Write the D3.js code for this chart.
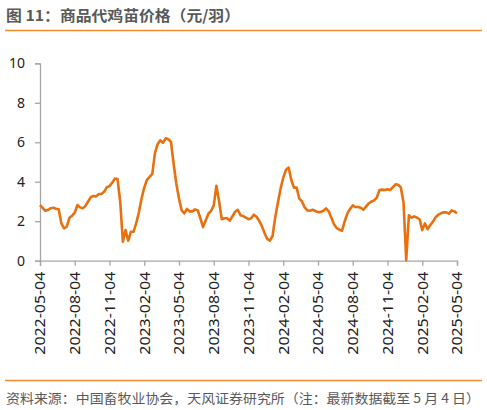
<!DOCTYPE html>
<html><head><meta charset="utf-8">
<script src="https://cdn.jsdelivr.net/npm/d3@7/dist/d3.min.js"></script>
<style>
body{margin:0;background:#fff;}
svg{display:block;}
text{font-family:"Noto Sans CJK SC","Noto Sans",sans-serif;}
</style></head>
<body>
<script>
const titleText = "图 11：商品代鸡苗价格（元/羽）";
const sourceText = "资料来源：中国畜牧业协会，天风证券研究所（注：最新数据截至 5 月 4 日）";
const tickLabels = ["2022-05-04","2022-08-04","2022-11-04","2023-02-04","2023-05-04","2023-08-04","2023-11-04","2024-02-04","2024-05-04","2024-08-04","2024-11-04","2025-02-04","2025-05-04"];
const yTicks = [0,2,4,6,8,10];
// weekly price (元/羽)
const prices = [
2.82,2.68,2.53,2.57,2.66,2.68,2.63,2.60,1.89,1.64,
1.72,2.17,2.28,2.43,2.82,2.70,2.65,2.78,3.00,3.22,
3.28,3.26,3.38,3.38,3.50,3.72,3.78,3.95,4.16,4.14,
3.00,0.96,1.55,1.01,1.47,1.47,1.90,2.45,3.15,3.70,
4.10,4.25,4.40,5.45,5.90,6.10,5.97,6.20,6.15,6.02,
4.90,3.90,3.15,2.55,2.40,2.62,2.50,2.50,2.60,2.55,
2.15,1.70,2.05,2.38,2.52,2.80,3.80,3.00,2.10,2.15,
2.15,2.03,2.25,2.48,2.58,2.30,2.26,2.18,2.10,2.15,
2.33,2.23,2.02,1.75,1.40,1.10,1.02,1.25,2.20,2.95,
3.65,4.20,4.60,4.72,4.10,3.70,3.70,3.15,3.00,2.70,
2.55,2.53,2.58,2.52,2.46,2.47,2.53,2.65,2.50,2.18,
1.85,1.65,1.57,1.52,2.00,2.40,2.62,2.80,2.72,2.72,
2.68,2.58,2.75,2.90,3.00,3.05,3.20,3.58,3.60,3.58,
3.62,3.58,3.72,3.87,3.85,3.70,2.95,0.03,2.30,2.18,
2.25,2.18,2.10,1.55,1.89,1.59,1.80,1.98,2.20,2.33,
2.40,2.45,2.45,2.38,2.55,2.50,2.40
];
const tickEvery = 13;

const W = 487, H = 410;
const svg = d3.select("body").append("svg").attr("width", W).attr("height", H);

const x = d3.scaleLinear().domain([0, prices.length - 1]).range([40, 457]);
const y = d3.scaleLinear().domain([0, 10]).range([260.7, 63.3]);

// title
svg.append("text").attr("x", 6).attr("y", 21).attr("font-size", 15).attr("font-weight", "bold")
  .attr("fill", "#595959").attr("textLength", 234).attr("lengthAdjust", "spacingAndGlyphs").text(titleText);
svg.append("line").attr("x1", 5).attr("x2", 482).attr("y1", 30.5).attr("y2", 30.5)
  .attr("stroke", "#F28A2E").attr("stroke-width", 1.5);

// y axis
const yAxis = d3.axisLeft(y).tickValues(yTicks).tickSize(5).tickPadding(10).tickFormat(d3.format("d"));
const gy = svg.append("g").attr("transform", "translate(40,0)").call(yAxis);
gy.select(".domain").attr("stroke", "#a6a6a6").attr("stroke-width", 1.3);
gy.selectAll(".tick line").attr("stroke", "#a6a6a6").attr("stroke-width", 1.3);
gy.selectAll(".tick text").attr("font-size", 14).attr("fill", "#222")
  .style("font-family", "'Noto Sans','DejaVu Sans',sans-serif");

// x axis
const xTickVals = tickLabels.map((d, i) => i * tickEvery);
const xAxis = d3.axisBottom(x).tickValues(xTickVals).tickSize(5).tickPadding(8)
  .tickFormat((d, i) => tickLabels[i]);
const gx = svg.append("g").attr("transform", "translate(0,260.7)").call(xAxis);
gx.select(".domain").attr("stroke", "#a6a6a6").attr("stroke-width", 1.3);
gx.selectAll(".tick line").attr("stroke", "#a6a6a6").attr("stroke-width", 1.3);
gx.selectAll(".tick text")
  .attr("font-size", 14).attr("fill", "#222")
  .style("font-family", "'Noto Sans','DejaVu Sans',sans-serif")
  .attr("text-anchor", "end")
  .attr("transform", "rotate(-90)")
  .attr("x", -11).attr("y", 0).attr("dy", "0.35em")
  .attr("textLength", 83).attr("lengthAdjust", "spacingAndGlyphs");

// line
const line = d3.line().x((d, i) => x(i)).y(d => y(d));
svg.append("path").datum(prices).attr("d", line).attr("fill", "none")
  .attr("stroke", "#E8700F").attr("stroke-width", 2.6).attr("stroke-linejoin", "round");

// footer
svg.append("line").attr("x1", 5).attr("x2", 482).attr("y1", 380.5).attr("y2", 380.5)
  .attr("stroke", "#F28A2E").attr("stroke-width", 1.5);
svg.append("text").attr("x", 6).attr("y", 403).attr("font-size", 13).attr("fill", "#595959")
  .attr("textLength", 474).attr("lengthAdjust", "spacingAndGlyphs").text(sourceText);
</script>
</body></html>
